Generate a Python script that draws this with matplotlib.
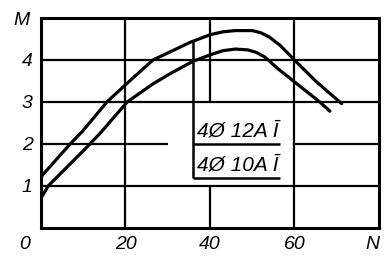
import matplotlib
matplotlib.use("Agg")
import matplotlib.pyplot as plt

# curves (N, M)
n_12 = [0, 6.9, 9.8, 15.6, 20, 26.5, 30.5, 35.3, 40, 43, 46, 50, 52, 54, 56.6, 60, 65, 71.2]
m_12 = [1.22, 2.0, 2.3, 3.0, 3.41, 4.0, 4.19, 4.42, 4.6, 4.67, 4.7, 4.7, 4.65, 4.55, 4.35, 4.0, 3.5, 2.96]

n_10 = [0, 1.7, 11.6, 14.4, 20.4, 26.5, 30.5, 36, 40, 43, 46, 49, 51, 53, 56, 60, 66, 68.4]
m_10 = [0.71, 1.0, 2.0, 2.3, 3.0, 3.43, 3.67, 3.97, 4.12, 4.22, 4.26, 4.24, 4.18, 4.07, 3.8, 3.48, 3.0, 2.78]

labels = ["4Ø 12A Ī", "4Ø 10A Ī"]
xticks = [20, 40, 60]
yticks = [1, 2, 3, 4]

FONT = dict(family=["Liberation Sans", "DejaVu Sans"], style="italic", fontsize=14)

fig = plt.figure(figsize=(3.87, 2.57), dpi=100)
ax = fig.add_axes([0.106, 0.113, 0.873, 0.817])
ax.set_xlim(0, 80)
ax.set_ylim(0, 5)

for s in ax.spines.values():
    s.set_linewidth(2.2)

# grid, with the gaps left around the label box
gw = 1.6
ax.hlines([1, 3, 4], 0, 80, color="k", lw=gw)
ax.hlines(2, 0, 30, color="k", lw=gw)
ax.hlines(2, 60, 80, color="k", lw=gw)
ax.vlines([20, 60], 0, 5, color="k", lw=gw)
ax.vlines(40, 0, 1, color="k", lw=gw)
ax.vlines(40, 3, 5, color="k", lw=gw)

ax.plot(n_12, m_12, color="k", lw=2.3, solid_capstyle="round", solid_joinstyle="round")
ax.plot(n_10, m_10, color="k", lw=2.3, solid_capstyle="round", solid_joinstyle="round")

# label box with leader to the upper curve
ax.vlines(36, 1.2, 4.45, color="k", lw=1.8)
ax.hlines([2.0, 1.2], 36, 56.6, color="k", lw=1.8)
box_font = dict(FONT, fontsize=15)
ax.text(37, 2.08, labels[0], ha="left", va="bottom", **box_font)
ax.text(37, 1.28, labels[1], ha="left", va="bottom", **box_font)

ax.set_xticks(xticks)
ax.set_xticklabels([str(v) for v in xticks], **FONT)
ax.set_yticks(yticks)
ax.set_yticklabels([str(v) for v in yticks], **FONT)
ax.tick_params(length=0, pad=6)

ax.text(-3.8, -0.4, "0", ha="center", va="center", clip_on=False, **FONT)
ax.text(78.5, -0.4, "N", ha="center", va="center", clip_on=False, **FONT)
ax.text(-4.7, 4.95, "M", ha="center", va="center", clip_on=False, **FONT)

fig.savefig("out.png", dpi=100)
